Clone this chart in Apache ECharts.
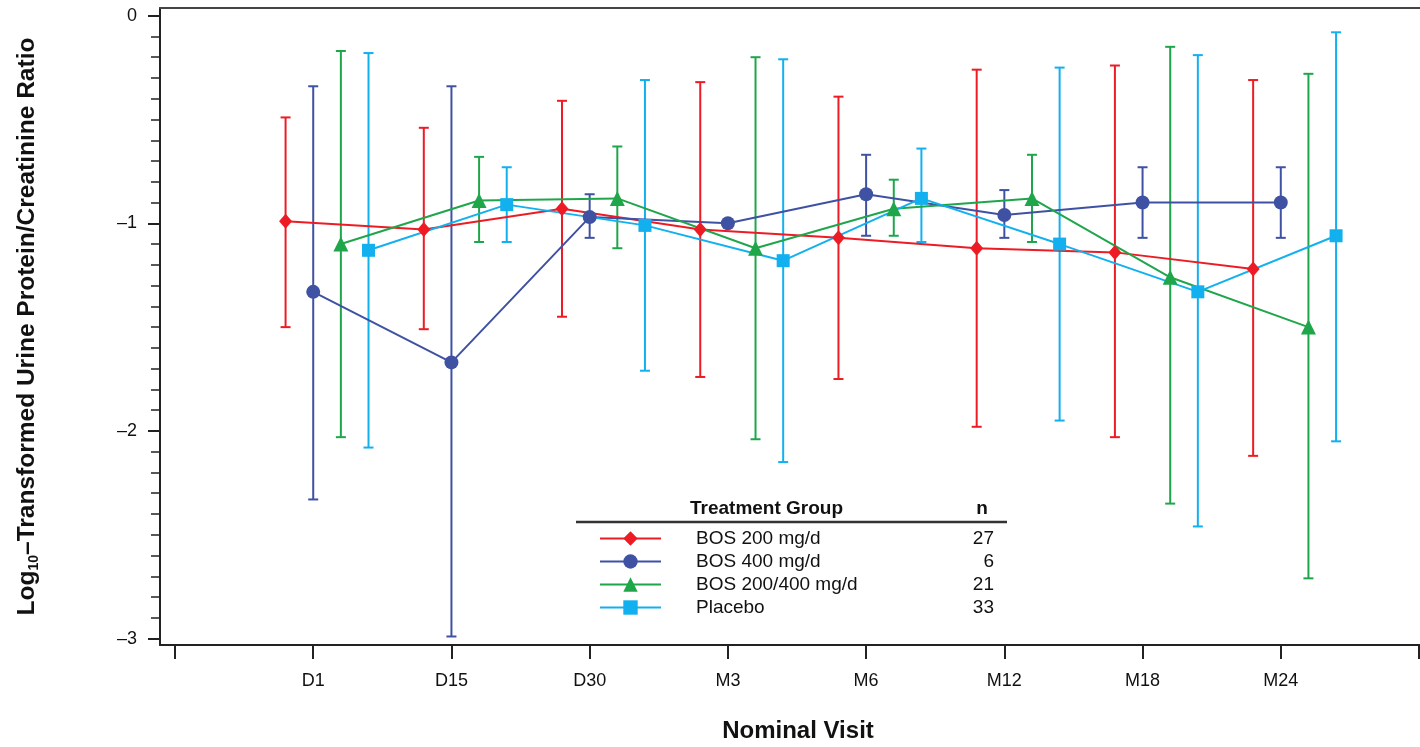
<!DOCTYPE html>
<html>
<head>
<meta charset="utf-8">
<style>
  html, body { margin: 0; padding: 0; background: #fff; }
  #chart { width: 1420px; height: 747px; }
</style>
<script src="https://cdn.jsdelivr.net/npm/echarts@6/dist/echarts.min.js"></script>
</head>
<body>
<div id="chart"></div>
<script>
// visits on the x axis (positions 1..8)
const visits = ['D1', 'D15', 'D30', 'M3', 'M6', 'M12', 'M18', 'M24'];
const yTickValues = [-3, -2, -1, 0];
const yTickLabels = ['\u20133', '\u20132', '\u20131', '0'];

const groupNames = ['BOS 200 mg/d', 'BOS 400 mg/d', 'BOS 200/400 mg/d', 'Placebo'];
const groupN = [27, 6, 21, 33];

// mean and error bar ends
const bos200Mean  = [-0.99, -1.03, -0.93, -1.03, -1.07, -1.12, -1.14, -1.22];
const bos200Lower = [-1.50, -1.51, -1.45, -1.74, -1.75, -1.98, -2.03, -2.12];
const bos200Upper = [-0.49, -0.54, -0.41, -0.32, -0.39, -0.26, -0.24, -0.31];

const bos400Mean  = [-1.33, -1.67, -0.97, -1.00, -0.86, -0.96, -0.90, -0.90];
const bos400Lower = [-2.33, -2.99, -1.07, null, -1.06, -1.07, -1.07, -1.07];
const bos400Upper = [-0.34, -0.34, -0.86, null, -0.67, -0.84, -0.73, -0.73];

const bos200400Mean  = [-1.10, -0.89, -0.88, -1.12, -0.93, -0.88, -1.26, -1.50];
const bos200400Lower = [-2.03, -1.09, -1.12, -2.04, -1.06, -1.09, -2.35, -2.71];
const bos200400Upper = [-0.17, -0.68, -0.63, -0.20, -0.79, -0.67, -0.15, -0.28];

const placeboMean  = [-1.13, -0.91, -1.01, -1.18, -0.88, -1.10, -1.33, -1.06];
const placeboLower = [-2.08, -1.09, -1.71, -2.15, -1.09, -1.95, -2.46, -2.05];
const placeboUpper = [-0.18, -0.73, -0.31, -0.21, -0.64, -0.25, -0.19, -0.08];

const FONT = 'Liberation Sans, Arial, Helvetica, sans-serif';
const groups = [
  { mean: bos200Mean, lower: bos200Lower, upper: bos200Upper, color: '#ED1C24', symbol: 'diamond', size: [13, 15], shift: -0.2 },
  { mean: bos400Mean, lower: bos400Lower, upper: bos400Upper, color: '#3F51A3', symbol: 'circle', size: 14, shift: 0 },
  { mean: bos200400Mean, lower: bos200400Lower, upper: bos200400Upper, color: '#1FA64B', symbol: 'triangle', size: 15, shift: 0.2 },
  { mean: placeboMean, lower: placeboLower, upper: placeboUpper, color: '#12B0EE', symbol: 'rect', size: 13, shift: 0.4 }
];

const minorTicks = [];
for (let i = -30; i <= 0; i++) minorTicks.push(i / 10);

function errorBar(color) {
  return function (params, api) {
    const x = api.value(0);
    const lo = api.coord([x, api.value(1)]);
    const hi = api.coord([x, api.value(2)]);
    const half = 5;
    const style = { stroke: color, lineWidth: 2 };
    return {
      type: 'group',
      children: [
        { type: 'line', shape: { x1: hi[0], y1: hi[1], x2: lo[0], y2: lo[1] }, style: style },
        { type: 'line', shape: { x1: hi[0] - half, y1: hi[1], x2: hi[0] + half, y2: hi[1] }, style: style },
        { type: 'line', shape: { x1: lo[0] - half, y1: lo[1], x2: lo[0] + half, y2: lo[1] }, style: style }
      ]
    };
  };
}

const series = [];
groups.forEach((g, gi) => {
  const bars = [];
  g.mean.forEach((m, i) => {
    if (g.lower[i] !== null) bars.push([i + 1 + g.shift, g.lower[i], g.upper[i]]);
  });
  series.push({
    type: 'custom',
    name: 'bars' + gi,
    renderItem: errorBar(g.color),
    data: bars,
    silent: true,
    z: 2
  });
  series.push({
    type: 'line',
    name: groupNames[gi],
    data: g.mean.map((m, i) => [i + 1 + g.shift, m]),
    symbol: g.symbol,
    symbolSize: g.size,
    showAllSymbol: true,
    color: g.color,
    lineStyle: { color: g.color, width: 2 },
    itemStyle: { color: g.color },
    z: 3
  });
});

const chart = echarts.init(document.getElementById('chart'));
chart.setOption({
  animation: false,
  textStyle: { fontFamily: FONT },
  grid: { left: 160, right: 0, top: 8, bottom: 102, outerBoundsMode: 'none', containLabel: false },
  legend: {
    data: groupNames,
    orient: 'vertical',
    left: 594,
    top: 524,
    itemWidth: 61,
    itemHeight: 18,
    itemGap: 4,
    selectedMode: false,
    formatter: function (name) {
      return '{gap| }{name|' + name + '}{n|' + groupN[groupNames.indexOf(name)] + '}';
    },
    textStyle: {
      fontFamily: FONT,
      fontSize: 19,
      color: '#111',
      rich: {
        gap: { width: 30, fontSize: 19 },
        name: { width: 262, fontSize: 19, fontFamily: FONT, color: '#111' },
        n: { width: 36, align: 'right', fontSize: 19, fontFamily: FONT, color: '#111' }
      }
    }
  },
  graphic: [
    { type: 'text', style: { x: 690, y: 509, text: 'Treatment Group', font: 'bold 19px ' + FONT, fill: '#111', textAlign: 'left', textVerticalAlign: 'middle', align: 'left', verticalAlign: 'middle' } },
    { type: 'text', style: { x: 982, y: 509, text: 'n', font: 'bold 19px ' + FONT, fill: '#111', textAlign: 'center', textVerticalAlign: 'middle', align: 'center', verticalAlign: 'middle' } },
    { type: 'line', shape: { x1: 576, y1: 522, x2: 1007, y2: 522 }, style: { stroke: '#333', lineWidth: 2.5 } }
  ],
  xAxis: [
    {
      type: 'value',
      position: 'bottom',
      min: -0.1085,
      max: 9.0072,
      name: 'Nominal Visit',
      nameLocation: 'middle',
      nameGap: 74,
      nameTextStyle: { fontSize: 24, fontWeight: 'bold', color: '#111', fontFamily: FONT, padding: [0, 0, 0, 16] },
      splitLine: { show: false },
      axisLine: { onZero: false, lineStyle: { color: '#222', width: 2 } },
      axisTick: { length: 14, customValues: [0, 1, 2, 3, 4, 5, 6, 7, 8, 9], lineStyle: { color: '#222', width: 2 } },
      axisLabel: {
        customValues: [1, 2, 3, 4, 5, 6, 7, 8],
        formatter: v => visits[Math.round(v) - 1] || '',
        margin: 27,
        fontSize: 18,
        color: '#111',
        fontFamily: FONT
      }
    },
    {
      type: 'value',
      position: 'top',
      min: -0.1085,
      max: 9.0072,
      axisLine: { show: true, onZero: false, lineStyle: { color: '#444', width: 2 } },
      axisTick: { show: false },
      axisLabel: { show: false },
      splitLine: { show: false }
    }
  ],
  yAxis: [
    {
      type: 'value',
      position: 'left',
      min: -3.031,
      max: 0.037,
      name: 'Log{sub|10}\u2013Transformed Urine Protein/Creatinine Ratio',
      nameLocation: 'middle',
      nameGap: 119,
      nameTextStyle: {
        fontSize: 24.5, fontWeight: 'bold', color: '#111', fontFamily: FONT,
        rich: { sub: { fontSize: 14, fontWeight: 'bold', color: '#111', fontFamily: FONT, padding: [13, 0, 0, 0] } }
      },
      splitLine: { show: false },
      axisLine: { show: true, onZero: false, lineStyle: { color: '#222', width: 2 } },
      axisTick: { length: 12, customValues: yTickValues, lineStyle: { color: '#222', width: 2 } },
      axisLabel: {
        customValues: yTickValues,
        formatter: v => yTickLabels[yTickValues.indexOf(Math.round(v))],
        margin: 23,
        fontSize: 18,
        color: '#111',
        fontFamily: FONT
      }
    },
    {
      type: 'value',
      position: 'left',
      min: -3.031,
      max: 0.037,
      axisLine: { show: false, onZero: false },
      splitLine: { show: false },
      axisTick: { show: true, length: 9, customValues: minorTicks, lineStyle: { color: '#222', width: 1.5 } },
      axisLabel: { show: false }
    }
  ],
  series: series
});
</script>
</body>
</html>
